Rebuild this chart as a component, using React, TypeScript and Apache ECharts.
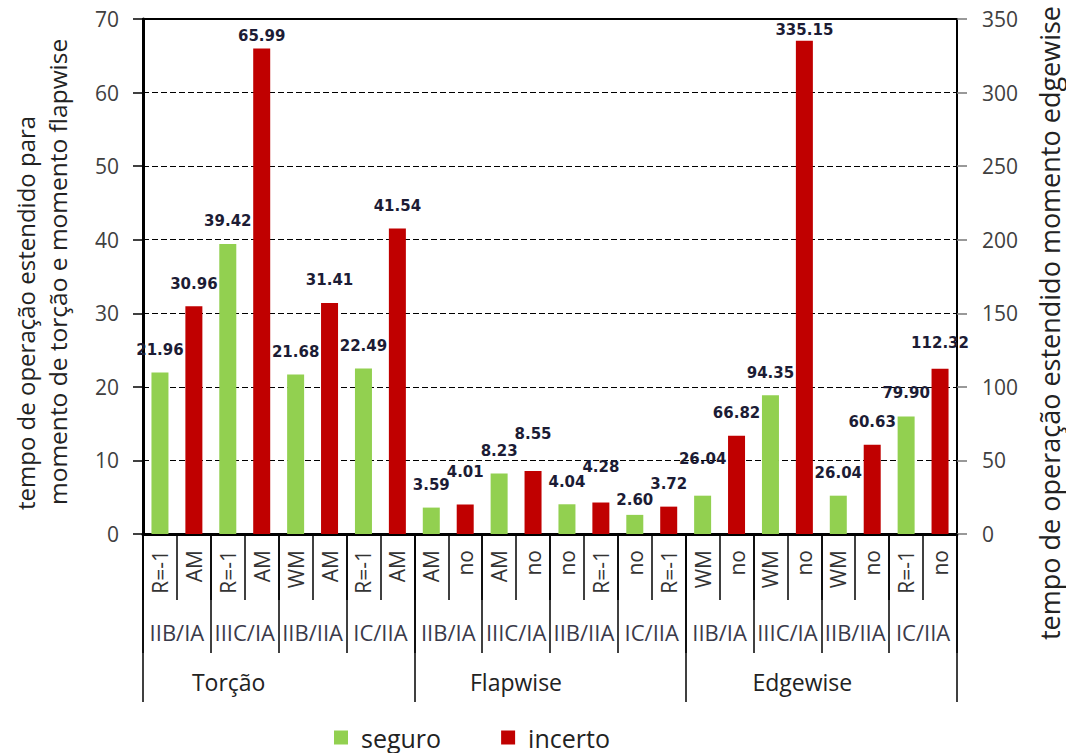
import React, { useEffect, useRef } from "react";
import * as echarts from "echarts";

// ---- data ----
const level1Labels = [
  "R=-1", "AM", "R=-1", "AM", "WM", "AM", "R=-1", "AM",
  "AM", "no", "AM", "no", "no", "R=-1", "no", "R=-1",
  "WM", "no", "WM", "no", "WM", "no", "R=-1", "no",
];
const level2Labels = [
  "IIB/IA", "IIIC/IA", "IIB/IIA", "IC/IIA",
  "IIB/IA", "IIIC/IA", "IIB/IIA", "IC/IIA",
  "IIB/IA", "IIIC/IA", "IIB/IIA", "IC/IIA",
];
const level3Labels = ["Torção", "Flapwise", "Edgewise"];
const seguroValues = [21.96, 39.42, 21.68, 22.49, 3.59, 8.23, 4.04, 2.6, 26.04, 94.35, 26.04, 79.9];
const incertoValues = [30.96, 65.99, 31.41, 41.54, 4.01, 8.55, 4.28, 3.72, 66.82, 335.15, 60.63, 112.32];
// which value axis each group is read on (0 = left, 1 = right / edgewise)
const groupAxis = [0, 0, 0, 0, 0, 0, 0, 0, 1, 1, 1, 1];
const leftTicks = { min: 0, max: 70, interval: 10 };
const rightTicks = { min: 0, max: 350, interval: 50 };

// ---- label placement (layout only) ----
const seguroLabelDist = [15, 15, 15, 15, 15, 15, 15, 7, 29, 15, 15, 16];
const incertoLabelDist = [15, 5, 15, 15, 25, 30, 28, 15, 15, 3, 15, 18];

const GREEN = "#92D050";
const RED = "#C00000";
const FONT = "Open Sans";

function buildSeries(values: number[], dists: number[], axis: number, offset: number) {
  const data: any[] = [];
  for (let i = 0; i < level1Labels.length; i++) data.push("-");
  values.forEach((v, g) => {
    if (groupAxis[g] === axis) {
      data[2 * g + offset] = { value: v, label: { distance: dists[g] } };
    }
  });
  return data;
}

export default function App() {
  const ref = useRef<HTMLDivElement>(null);
  useEffect(() => {
    if (!ref.current) return;
    const chart = echarts.init(ref.current, null, { renderer: "svg" });
    const labelCfg = {
      show: true,
      position: "top",
      fontFamily: "DejaVu Sans",
      fontWeight: "bold",
      fontSize: 15,
      color: "#1c1c35",
      formatter: (p: any) => Number(p.value).toFixed(2),
    };
    const barBase = {
      type: "bar",
      barWidth: 17,
      barGap: "-100%",
      xAxisIndex: 0,
      label: labelCfg,
    };
    const option: any = {
      animation: false,
      textStyle: { fontFamily: FONT },
      grid: {
        left: 143,
        right: 1066 - 957,
        top: 19,
        bottom: 753 - 534,
        show: true,
        borderColor: "#000",
        borderWidth: 2,
      },
      legend: {
        data: ["seguro", "incerto"],
        icon: "rect",
        itemWidth: 14,
        itemHeight: 14,
        itemGap: 60,
        left: 329,
        top: 720,
        textStyle: { fontFamily: FONT, fontSize: 25, color: "#222", padding: [0, 0, 0, 8] },
      },
      xAxis: [
        {
          type: "category",
          position: "bottom",
          data: level1Labels,
          axisLine: { show: true, lineStyle: { color: "#000", width: 3 } },
          axisTick: { show: true, interval: 0, length: 66, lineStyle: { color: "#000", width: 1.5 } },
          axisLabel: {
            interval: 0,
            rotate: 90,
            margin: 16,
            fontFamily: FONT,
            fontSize: 21,
            color: "#333",
          },
        },
        {
          type: "category",
          position: "bottom",
          data: level2Labels,
          axisLine: { show: false },
          axisTick: { show: true, interval: 0, length: 119, lineStyle: { color: "#000", width: 1.5 } },
          axisLabel: {
            interval: 0,
            margin: 87,
            fontFamily: FONT,
            fontSize: 22,
            color: "#3a3a4a",
          },
        },
        {
          type: "category",
          position: "bottom",
          data: level3Labels,
          axisLine: { show: false },
          axisTick: { show: true, interval: 0, length: 168, lineStyle: { color: "#000", width: 1.5 } },
          axisLabel: {
            interval: 0,
            margin: 136,
            fontFamily: FONT,
            fontSize: 23,
            color: "#222",
            formatter: (v: string, i: number) => ["{a|", "{b|", "{c|"][i] + v + "}",
            rich: {
              a: { fontFamily: FONT, fontSize: 23, color: "#222", padding: [0, 100, 0, 0] },
              b: { fontFamily: FONT, fontSize: 23, color: "#222", padding: [0, 68, 0, 0] },
              c: { fontFamily: FONT, fontSize: 23, color: "#222", padding: [0, 38, 0, 0] },
            },
          },
        },
      ],
      yAxis: [
        {
          type: "value",
          position: "left",
          ...leftTicks,
          axisLine: { show: true, lineStyle: { color: "#000", width: 3 } },
          axisTick: { show: true, length: 10, lineStyle: { color: "#000", width: 1.5 } },
          axisLabel: { margin: 24, fontFamily: FONT, fontSize: 21, color: "#404040" },
          splitLine: { show: true, lineStyle: { color: "#000", width: 1, type: [6, 3] } },
        },
        {
          type: "value",
          position: "right",
          ...rightTicks,
          axisLine: { show: true, lineStyle: { color: "#000", width: 2 } },
          axisTick: { show: true, length: 10, lineStyle: { color: "#777", width: 1.5 } },
          axisLabel: { margin: 25, fontFamily: FONT, fontSize: 21, color: "#404040" },
          splitLine: { show: false },
        },
      ],
      series: [
        { ...barBase, name: "seguro", yAxisIndex: 0, itemStyle: { color: GREEN }, data: buildSeries(seguroValues, seguroLabelDist, 0, 0) },
        { ...barBase, name: "incerto", yAxisIndex: 0, itemStyle: { color: RED }, data: buildSeries(incertoValues, incertoLabelDist, 0, 1) },
        { ...barBase, name: "seguro", yAxisIndex: 1, itemStyle: { color: GREEN }, data: buildSeries(seguroValues, seguroLabelDist, 1, 0) },
        { ...barBase, name: "incerto", yAxisIndex: 1, itemStyle: { color: RED }, data: buildSeries(incertoValues, incertoLabelDist, 1, 1) },
      ],
      graphic: [
        {
          type: "text",
          x: 25,
          y: 510,
          rotation: Math.PI / 2,
          style: {
            text: "tempo de operação estendido para",
            fontFamily: FONT,
            fontSize: 24,
            fill: "#222",
            align: "left",
            verticalAlign: "middle",
          },
        },
        {
          type: "text",
          x: 57,
          y: 505,
          rotation: Math.PI / 2,
          style: {
            text: "momento de torção e momento flapwise",
            fontFamily: FONT,
            fontSize: 24.5,
            fill: "#222",
            align: "left",
            verticalAlign: "middle",
          },
        },
        {
          type: "text",
          x: 1049,
          y: 640,
          rotation: Math.PI / 2,
          style: {
            text: "tempo de operação estendido momento edgewise",
            fontFamily: FONT,
            fontSize: 27,
            fill: "#222",
            align: "left",
            verticalAlign: "middle",
          },
        },
      ],
    };
    chart.setOption(option);
    return () => chart.dispose();
  }, []);
  return (
    <div
      ref={ref}
      style={{ position: "fixed", left: 0, top: 0, width: 1066, height: 753, background: "#fff" }}
    />
  );
}
